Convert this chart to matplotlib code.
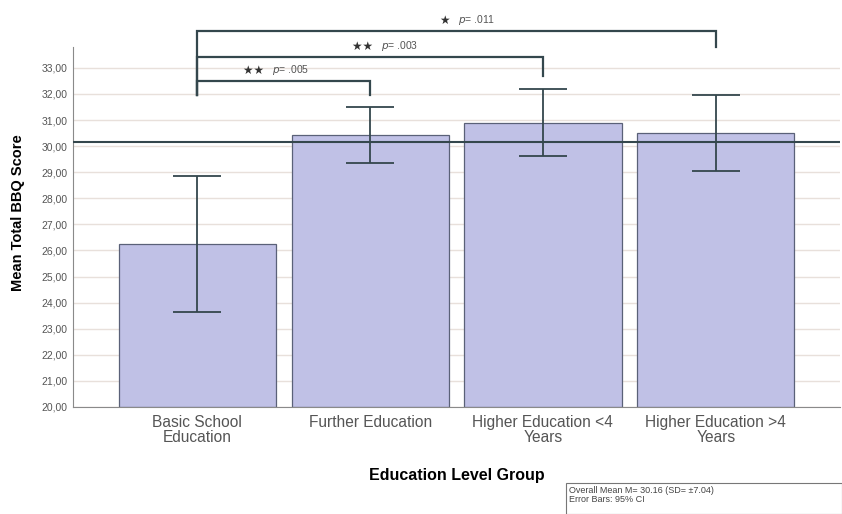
import matplotlib
matplotlib.use("Agg")
import matplotlib.pyplot as plt
from matplotlib.patches import Rectangle

plt.rcParams["font.family"] = ["Liberation Sans", "DejaVu Sans"]

# data
groups = ["Basic School\nEducation", "Further Education",
          "Higher Education <4\nYears", "Higher Education >4\nYears"]
means = [26.25, 30.42, 30.88, 30.52]
ci_low = [23.65, 29.35, 29.62, 29.04]
ci_high = [28.85, 31.50, 32.18, 31.95]
overall_mean = 30.16
yticks = [20, 21, 22, 23, 24, 25, 26, 27, 28, 29, 30, 31, 32, 33]

# significance brackets: (from, to, bracket level, right drop level, stars, p)
brackets = [
    (0, 1, 32.49, 31.95, "★★", ".005"),
    (0, 2, 33.41, 32.70, "★★", ".003"),
    (0, 3, 34.41, 33.80, "★", ".011"),
]
label_x = [0.43, 1.06, 1.51]

bar_col = "#c0c1e6"
edge_col = "#5a6178"
line_col = "#34474d"
grid_col = "#e8e0db"
text_col = "#555555"

fig = plt.figure(figsize=(8.42, 5.14), dpi=100)
ax = fig.add_axes([0.0867, 0.2082, 0.911, 0.7004])

x = list(range(len(groups)))
ax.bar(x, [m - 20 for m in means], bottom=20, width=0.91, color=bar_col,
       edgecolor=edge_col, linewidth=0.9, zorder=2)

yerr = [[m - lo for m, lo in zip(means, ci_low)],
        [hi - m for m, hi in zip(means, ci_high)]]
ax.errorbar(x, means, yerr=yerr, fmt="none", ecolor=line_col, elinewidth=1.3,
            capsize=17, capthick=1.3, zorder=3)

ax.axhline(overall_mean, color=line_col, linewidth=1.5, zorder=4)

ax.set_xlim(-0.72, 3.72)
ax.set_ylim(20, 33.8)
ax.set_yticks(yticks)
ax.set_yticklabels([f"{v:.2f}".replace(".", ",") for v in yticks],
                   fontsize=7.5, color=text_col)
ax.set_xticks(x)
ax.set_xticklabels(groups, fontsize=11.2, color=text_col, linespacing=0.95)
ax.tick_params(axis="both", length=0, pad=4)
ax.tick_params(axis="x", pad=6)
ax.yaxis.grid(True, color=grid_col, linewidth=1.0, zorder=0)
ax.set_axisbelow(True)

for s in ["top", "right"]:
    ax.spines[s].set_visible(False)
ax.spines["left"].set_color("#8a8a8a")
ax.spines["bottom"].set_color("#8a8a8a")

ax.set_ylabel("Mean Total BBQ Score", fontsize=10.5, fontweight="bold")
ax.yaxis.set_label_coords(-0.063, 0.54)
ax.set_xlabel("Education Level Group", fontsize=11.5, fontweight="bold", labelpad=17)

# significance brackets
left_bottom = 31.95
for (i, j, level, drop, stars, p), lx in zip(brackets, label_x):
    ax.plot([i, i, j, j], [left_bottom, level, level, drop], color=line_col,
            linewidth=1.6, clip_on=False, zorder=5, solid_joinstyle="miter")
    ax.text(lx, level + 0.16, stars + "  ", fontsize=8.5, color="#333333",
            family="DejaVu Sans", ha="right", va="bottom", clip_on=False)
    ax.text(lx, level + 0.16, "$p$= " + p, fontsize=7.5, color=text_col,
            ha="left", va="bottom", clip_on=False)

# footnote box
fig.patches.append(Rectangle((566 / 842, 0), 276 / 842, 31 / 514,
                             transform=fig.transFigure, fill=False,
                             edgecolor="#777777", linewidth=0.8))
fig.text(569 / 842, 19 / 514, "Overall Mean M= 30.16 (SD= ±7.04)\nError Bars: 95% CI",
         fontsize=6.5, color="#444444", va="center", ha="left", linespacing=1.05)

fig.savefig("out.png", dpi=100)
